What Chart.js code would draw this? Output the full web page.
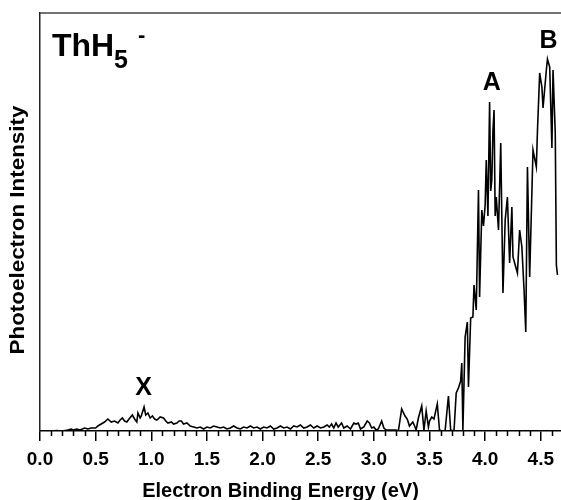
<!DOCTYPE html>
<html>
<head>
<meta charset="utf-8">
<script src="https://cdn.jsdelivr.net/npm/chart.js@4/dist/chart.umd.min.js"></script>
<style>
  html, body { margin: 0; padding: 0; background: #fff; }
  canvas { display: block; }
</style>
</head>
<body>
<canvas id="c" width="561" height="500"></canvas>
<script>
// Electron binding energy (eV)
const energy = [
  0.00,0.05,0.10,0.15,0.20,0.25,0.28,0.30,0.33,0.36,0.40,0.43,0.46,0.50,
  0.52,0.55,0.58,0.61,0.64,0.67,0.70,0.72,0.74,0.76,0.78,0.80,0.83,0.85,0.87,0.88,
  0.90,0.91,0.935,0.95,0.97,0.99,1.01,1.03,1.05,1.08,1.11,1.13,1.15,1.18,1.20,1.23,
  1.25,1.27,1.29,1.32,1.35,1.38,1.41,1.44,1.47,1.50,1.53,1.56,1.59,1.62,1.65,1.68,
  1.71,1.74,1.77,1.80,1.83,1.86,1.89,1.92,1.95,1.98,2.01,2.04,2.07,2.10,2.13,2.16,
  2.19,2.22,2.25,2.28,2.31,2.34,2.37,2.40,2.43,2.46,2.49,2.52,2.55,2.58,2.60,2.62,
  2.64,2.66,2.68,2.71,2.73,2.76,2.79,2.82,2.84,2.86,2.88,2.91,2.94,2.96,2.98,3.00,
  3.02,3.04,3.07,3.09,3.11,3.14,3.17,3.20,3.22,3.25,3.28,3.30,3.32,3.35,3.37,3.38,
  3.40,3.43,3.45,3.47,3.49,3.50,3.52,3.54,3.57,3.59,3.61,3.64,3.67,3.69,3.72,3.74,
  3.76,3.78,3.79,3.80,3.82,3.84,3.85,3.87,3.89,3.90,3.92,3.94,3.95,3.97,3.985,4.00,4.01,
  4.025,4.04,4.05,4.06,4.07,4.08,4.09,4.10,4.12,4.14,4.16,4.18,4.20,4.22,4.24,4.25,4.27,4.29,4.31,4.33,
  4.35,4.365,4.38,4.40,4.43,4.46,4.47,4.49,4.51,4.52,4.55,4.56,4.58,4.60,4.61,4.63,
  4.64,4.65
];
// Photoelectron intensity (arb. units)
const intensity = [
  0,0,0,0.5,0,1,2,1,2,1,3,2,3,3,
  5,7,9,12,9,10,8,11,13,10,9,12,16,12,9,18,
  13,15,24,16,18,13,15,12,11,14,13,10,8,9,7,8,
  10,10,7,8,5,4,3,4,2,4,3,5,4,3,4,2,
  3,5,3,2,4,3,5,3,4,2,4,3,5,2,3,5,
  3,4,2,5,4,6,3,4,6,3,5,3,4,6,4,7,
  3,8,4,8,3,5,2,8,7,8,2,4,10,8,3,4,
  1,2,10,3,1,1,1,1,0,22,15,12,5,9,4,1,
  13,25,1,20,4,10,14,12,27,1,0,0,35,1,0,38,
  43,50,68,1,94,109,44,113,114,146,121,241,134,221,205,226,271,
  215,329,240,251,300,321,215,234,201,288,138,211,234,168,224,174,166,158,201,184,
  140,99,264,154,281,264,300,358,344,323,361,372,364,283,361,298,
  166,156
];
const majorTicks = [0.0, 0.5, 1.0, 1.5, 2.0, 2.5, 3.0, 3.5, 4.0, 4.5];
const xMin = 0, xMax = 4.68, yMin = 0, yMax = 418;
const xTitle = 'Electron Binding Energy (eV)';
const yTitle = 'Photoelectron Intensity';

const FONT = '"Liberation Sans", Arial, sans-serif';

const decor = {
  id: 'decor',
  afterDraw(chart) {
    const ctx = chart.ctx;
    const a = chart.chartArea;
    const xs = chart.scales.x;
    ctx.save();
    // top border
    ctx.strokeStyle = '#444';
    ctx.lineWidth = 1.5;
    ctx.beginPath();
    ctx.moveTo(a.left, a.top);
    ctx.lineTo(chart.width, a.top);
    ctx.stroke();
    // minor ticks
    ctx.strokeStyle = '#000';
    ctx.lineWidth = 1.5;
    for (let i = 1; i <= 46; i++) {
      if (i % 5 === 0) continue;
      const px = Math.round(xs.getPixelForValue(i / 10)) + 0.5;
      ctx.beginPath();
      ctx.moveTo(px, a.bottom);
      ctx.lineTo(px, a.bottom + 5);
      ctx.stroke();
    }
    ctx.fillStyle = '#000';
    // axis titles
    ctx.font = 'bold 20px ' + FONT;
    ctx.textAlign = 'center';
    ctx.textBaseline = 'alphabetic';
    ctx.fillText(xTitle, chart.width / 2, 497);
    ctx.save();
    ctx.translate(24, (a.top + a.bottom) / 2 + 8);
    ctx.rotate(-Math.PI / 2);
    ctx.font = 'bold 20px ' + FONT;
    ctx.scale(1.12, 1);
    ctx.fillText(yTitle, 0, 0);
    ctx.restore();
    // species label
    ctx.textAlign = 'left';
    ctx.font = 'bold 32px ' + FONT;
    ctx.fillText('ThH', 52, 56);
    ctx.font = 'bold 25px ' + FONT;
    ctx.fillText('5', 114, 68);
    ctx.font = 'bold 22px ' + FONT;
    ctx.fillText('-', 138, 42);
    // peak labels
    ctx.textAlign = 'center';
    ctx.font = 'bold 25px ' + FONT;
    ctx.fillText('A', xs.getPixelForValue(4.06), 90);
    ctx.fillText('B', xs.getPixelForValue(4.57), 48);
    ctx.fillText('X', xs.getPixelForValue(0.93), 395);
    ctx.restore();
  }
};

new Chart(document.getElementById('c'), {
  type: 'line',
  data: {
    datasets: [{
      data: energy.map((e, i) => ({ x: e, y: intensity[i] })),
      borderColor: '#000',
      borderWidth: 1.6,
      pointRadius: 0,
      tension: 0,
      fill: false
    }]
  },
  options: {
    responsive: false,
    devicePixelRatio: 1,
    animation: false,
    layout: { padding: { top: 13, right: 0, left: 0, bottom: 0 } },
    plugins: { legend: { display: false }, tooltip: { enabled: false } },
    scales: {
      x: {
        type: 'linear',
        min: xMin, max: xMax,
        afterBuildTicks: (s) => { s.ticks = majorTicks.map(v => ({ value: v })); },
        afterFit: (s) => { s.height = 69; },
        grid: { display: true, drawOnChartArea: false, drawTicks: true, tickLength: 10, color: '#000', lineWidth: 1.5 },
        border: { display: true, color: '#000', width: 1.5 },
        ticks: {
          autoSkip: false, maxRotation: 0, padding: 7,
          color: '#000',
          font: { family: FONT, size: 19, weight: 'bold' },
          callback: (v) => Number(v).toFixed(1)
        }
      },
      y: {
        min: yMin, max: yMax,
        afterFit: (s) => { s.width = 40; },
        grid: { display: false },
        border: { display: true, color: '#222', width: 1.5 },
        ticks: { display: false }
      }
    }
  },
  plugins: [decor]
});
</script>
</body>
</html>
